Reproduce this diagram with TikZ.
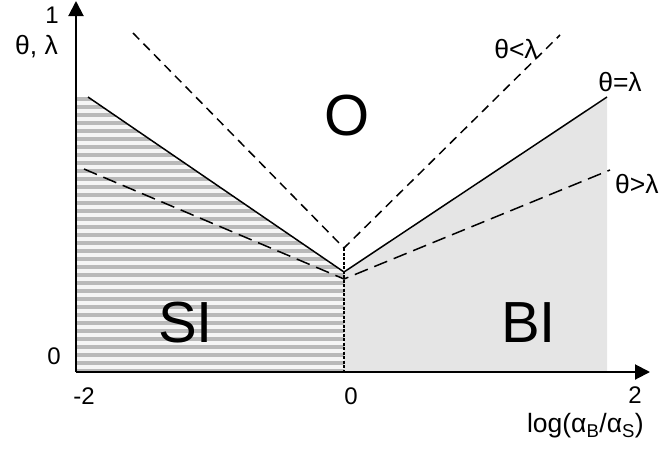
\documentclass[tikz,border=0pt]{standalone}
\usepackage{fontspec}
\setmainfont{Liberation Sans}
\usetikzlibrary{arrows.meta}
\begin{document}
\begin{tikzpicture}[x=1pt,y=-1pt,
  lab/.style={font=\fontsize{24}{26}\selectfont, inner sep=0pt},
  glab/.style={font=\fontsize{26.5}{28}\selectfont, inner sep=0pt},
  big/.style={font=\fontsize{58}{60}\selectfont, inner sep=0pt},
  axisline/.style={line width=2pt, -{Triangle[length=15pt,width=15pt]}},
  bound/.style={line width=1.5pt},
  vdash/.style={line width=1.5pt, dash pattern=on 9pt off 6pt},
  ldash/.style={line width=1.5pt, dash pattern=on 14pt off 7pt},
  sep/.style={line width=1.4pt, dash pattern=on 3pt off 1.5pt}]
\useasboundingbox (0,0) rectangle (661,456);
% named points
\coordinate (Or) at (76,372);
\coordinate (ytip) at (76,1);
\coordinate (xtip) at (650,372);
\coordinate (siTL) at (76,97);
\coordinate (sL) at (88,97);
\coordinate (J) at (344,272);
\coordinate (sR) at (607,97);
\coordinate (dL) at (84,169);
\coordinate (dJ) at (344,279);
\coordinate (dR) at (610,170);
\coordinate (vL) at (133,33);
\coordinate (vJ) at (344,248);
\coordinate (vR) at (560,35);
\coordinate (B0) at (344,372);
\coordinate (BR) at (607,372);
% SI region
\fill[gray!8] (siTL) -- (sL) -- (J) -- (B0) -- (Or) -- cycle;
\begin{scope}
  \clip (siTL) -- (sL) -- (J) -- (B0) -- (Or) -- cycle;
  \foreach \y in {99,107,...,371} \draw[gray!55, line width=3.5pt] (76,\y) -- (344,\y);
\end{scope}
% BI region
\fill[gray!20] (J) -- (sR) -- (BR) -- (B0) -- cycle;
% boundaries
\draw[bound] (sL) -- (J) -- (sR);
\draw[ldash] (dL) -- (dJ) -- (dR);
\draw[vdash] (vL) -- (vJ) -- (vR);
\draw[sep] (vJ) -- (B0);
% axes
\draw[axisline] (Or) -- (ytip);
\draw[axisline] (Or) -- (xtip);
% labels
\node[lab, anchor=east] (t1) at (59,15) {1};
\node[glab, anchor=east] (tth) at (58,47) {θ, λ};
\node[lab, anchor=east] (t0) at (61,356) {0};
\node[lab] (xm2) at (84,396) {-2};
\node[lab] (x0) at (351,396) {0};
\node[lab] (x2) at (635,395) {2};
\node[glab, anchor=east] (xl) at (644,426) {log(α\textsubscript{B}/α\textsubscript{S})};
\node[big] (rO) at (347,116) {O};
\node[big, anchor=base east] (rSI) at (213,342) {SI};
\node[big, anchor=base west] (rBI) at (501,342) {BI};
\node[glab] (lless) at (516,49) {θ<λ};
\node[glab] (leq) at (620,82) {θ=λ};
\node[glab, anchor=west] (lgt) at (615,184) {θ>λ};
\end{tikzpicture}
\end{document}
